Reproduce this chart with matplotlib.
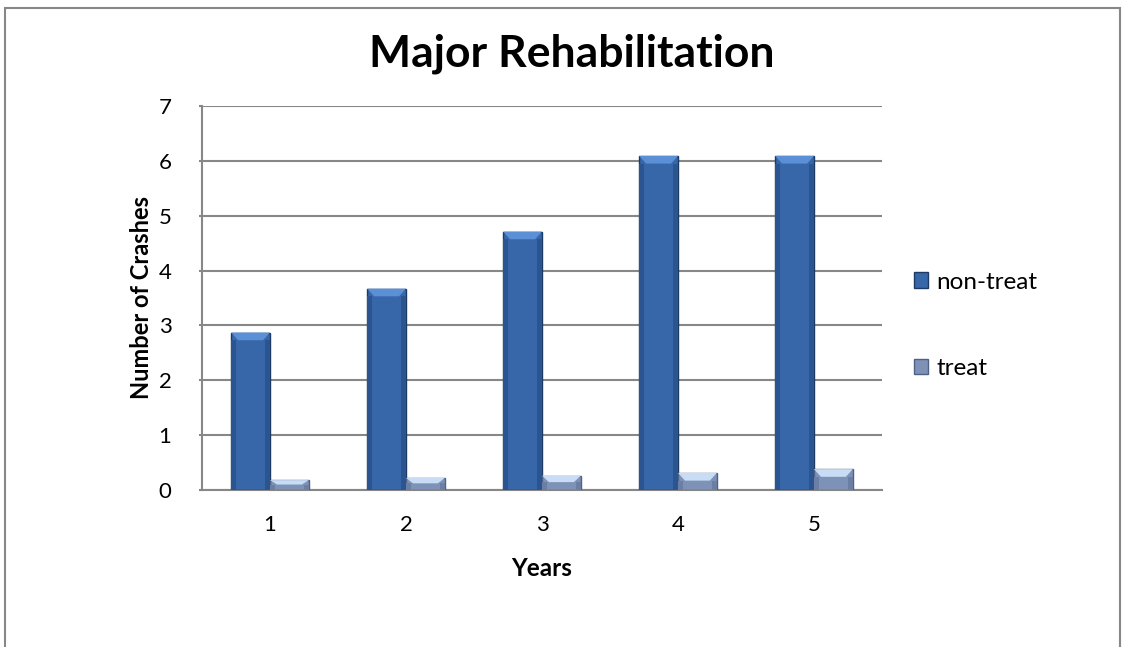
import matplotlib.pyplot as plt
from matplotlib.patches import Rectangle, Polygon

years = ['1', '2', '3', '4', '5']
non_treat = [2.87, 3.67, 4.71, 6.09, 6.09]
treat = [0.18, 0.22, 0.26, 0.31, 0.38]

plt.rcParams['font.family'] = ['Lato', 'DejaVu Sans']

fig = plt.figure(figsize=(11.23, 6.47), dpi=100)
ax = fig.add_axes([0.1799, 0.2427, 0.6055, 0.5935])

x = list(range(len(years)))
w = 0.2857
b1 = ax.bar([i - w / 2 for i in x], non_treat, w, color='#3767a8',
            edgecolor='#1d3a63', linewidth=1.0, label='non-treat', zorder=3)
b2 = ax.bar([i + w / 2 for i in x], treat, w, color='#7d92b6',
            edgecolor='#4f6283', linewidth=1.0, label='treat', zorder=3)

# bevel on the top of each bar + darker sides (fake the excel 3d look)
bev = 0.14
for bars, light, dark in ((b1, '#5b8fd6', '#2b5590'), (b2, '#c8dcf6', '#6a7fa3')):
    for r in bars:
        x0, y0, bw, bh = r.get_x(), r.get_y(), r.get_width(), r.get_height()
        d = min(bev, bh * 0.45)
        dx = bw * 0.18
        ax.add_patch(Rectangle((x0, y0), bw * 0.12, bh - d, facecolor=dark,
                               edgecolor='none', zorder=3.5))
        ax.add_patch(Rectangle((x0 + bw * 0.88, y0), bw * 0.12, bh - d, facecolor=dark,
                               edgecolor='none', zorder=3.5))
        ax.add_patch(Polygon([(x0, y0 + bh), (x0 + bw, y0 + bh),
                              (x0 + bw - dx, y0 + bh - d), (x0 + dx, y0 + bh - d)],
                             closed=True, facecolor=light, edgecolor='none', zorder=4))

ax.set_xlim(-0.5, 4.5)
ax.set_ylim(0, 7)
ax.set_yticks(range(0, 8))
ax.set_xticks(x)
ax.set_xticklabels(years)
ax.yaxis.grid(True, color='#878787', linewidth=1.5, zorder=0)
ax.set_axisbelow(True)
for s in ('top', 'right'):
    ax.spines[s].set_visible(False)
ax.spines['left'].set_color('#878787')
ax.spines['bottom'].set_color('#878787')
ax.spines['left'].set_linewidth(1.5)
ax.spines['bottom'].set_linewidth(1.5)
ax.tick_params(axis='y', length=2, color='#878787', width=1.5, labelsize=16, pad=20)
ax.tick_params(axis='x', length=0, labelsize=16, pad=18)

ax.set_xlabel('Years', fontsize=17.5, fontweight='bold', labelpad=16)
ax.set_ylabel('Number of Crashes', fontsize=17, fontweight='bold', labelpad=4)
fig.text(0.509, 1 - 67 / 647, 'Major Rehabilitation', fontsize=32, fontweight='bold',
         ha='center', va='baseline')

fig.legend(handles=[b1, b2], labels=['non-treat', 'treat'],
           loc='center left', bbox_to_anchor=(0.794, 0.497), frameon=False,
           fontsize=17.5, handlelength=0.6, handleheight=0.6, handletextpad=0.35,
           labelspacing=2.7)

# outer chart border
fig.patches.append(Rectangle((5 / 1123, -0.01), 1115 / 1123, 1 - 8 / 647 + 0.01,
                             transform=fig.transFigure, fill=False,
                             edgecolor='#878787', linewidth=1.5))

fig.savefig('out.png', dpi=100)
